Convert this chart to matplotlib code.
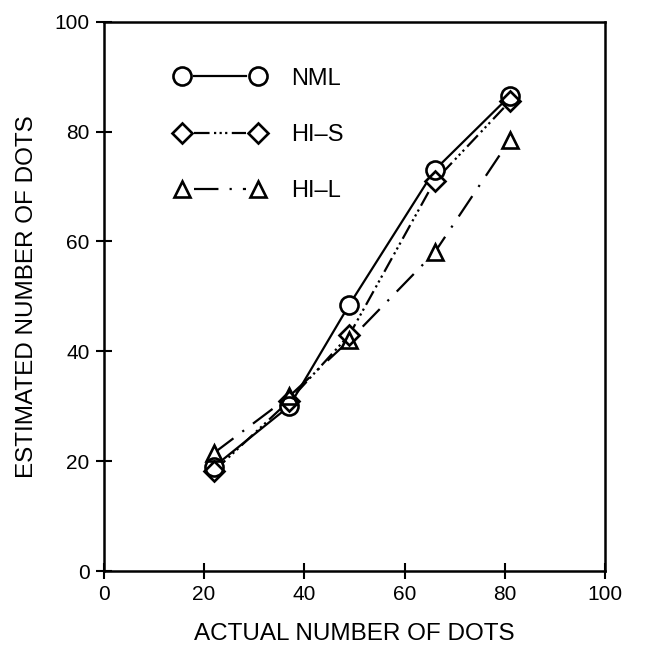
import matplotlib
matplotlib.use("Agg")
import matplotlib.pyplot as plt
from matplotlib.lines import Line2D
from matplotlib.legend_handler import HandlerLine2DCompound

plt.rcParams['font.family'] = ['Liberation Sans', 'DejaVu Sans']

actual = [22, 37, 49, 66, 81]
nml = [19, 30, 48.5, 73, 86.5]
hi_s = [18.2, 31, 43, 71, 85.5]
hi_l = [21.5, 31.8, 42, 58, 78.5]
series_names = ["NML", "HI\u2013S", "HI\u2013L"]
ticks = [0, 20, 40, 60, 80, 100]


class GapLineHandler(HandlerLine2DCompound):
    """Legend entry: marker, line, marker, with the line stopping at the markers."""

    def __init__(self, gap=8.5, **kw):
        super().__init__(**kw)
        self.gap = gap

    def create_artists(self, legend, orig_handle, xdescent, ydescent,
                       width, height, fontsize, trans):
        arts = super().create_artists(legend, orig_handle, xdescent, ydescent,
                                      width, height, fontsize, trans)
        line, marker = arts
        xm = marker.get_xdata()
        x0, x1 = min(xm), max(xm)
        y = line.get_ydata()[0]
        line.set_xdata([x0 + self.gap, x1 - self.gap])
        line.set_ydata([y, y])
        return arts


fig = plt.figure(figsize=(6.68, 6.58), dpi=100)
ax = fig.add_axes([0.155, 0.132, 0.751, 0.835])

lw = 1.6
styles = [
    ('o', '-', 13),
    ('D', (0, (7, 2, 1, 1.5, 1, 1.5, 1, 2)), 10),
    ('^', (0, (11, 5, 1, 5)), 12),
]
data = [nml, hi_s, hi_l]
handles = []
for (m, ls, ms), ys, name in zip(styles, data, series_names):
    ax.plot(actual, ys, linestyle=ls, color='black', linewidth=lw, zorder=2)
    # white interior keeps the connecting lines from showing inside markers
    ax.plot(actual, ys, linestyle='none', marker=m, markersize=ms,
            markerfacecolor='white', markeredgecolor='none', zorder=3)
    ax.plot(actual, ys, linestyle='none', marker=m, markersize=ms,
            markerfacecolor='none', markeredgecolor='black',
            markeredgewidth=1.9, zorder=4)
    handles.append(Line2D([0], [0], marker=m, linestyle=ls, color='black',
                          linewidth=lw, markersize=ms, markerfacecolor='none',
                          markeredgecolor='black', markeredgewidth=1.9,
                          label=name))

leg = ax.legend(handles=handles, loc='upper left', bbox_to_anchor=(0.1, 0.955),
                frameon=False, numpoints=2, handlelength=3.8, labelspacing=1.45,
                handletextpad=1.1, fontsize=17,
                handler_map={Line2D: GapLineHandler()})

ax.set_xlim(0, 100)
ax.set_ylim(0, 100)
ax.set_xticks(ticks)
ax.set_yticks(ticks)
ax.tick_params(direction='inout', length=12, width=1.5, labelsize=15, pad=4)
for s in ax.spines.values():
    s.set_linewidth(1.8)

ax.set_xlabel("ACTUAL NUMBER OF DOTS", fontsize=17.5, labelpad=14)
ax.set_ylabel("ESTIMATED NUMBER OF DOTS", fontsize=17.5, labelpad=12)

fig.savefig("out.png", dpi=100)
